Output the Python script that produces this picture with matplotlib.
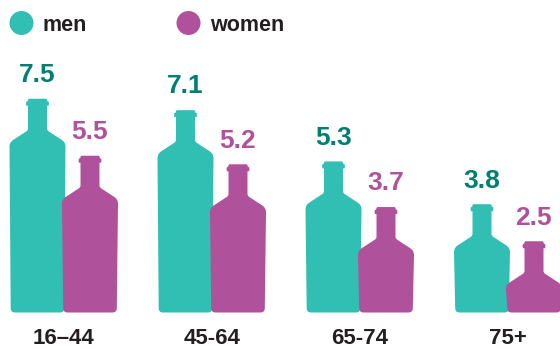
import matplotlib
matplotlib.use('Agg')
import matplotlib.pyplot as plt
from matplotlib.patches import PathPatch, Ellipse
from matplotlib.path import Path

# Data
age_groups = ['16–44', '45-64', '65-74', '75+']
men = [7.5, 7.1, 5.3, 3.8]
women = [5.5, 5.2, 3.7, 2.5]

TEAL = '#32BFB3'
TEAL_DARK = '#007F75'
PURPLE = '#AF519B'
INK = '#231F20'

plt.rcParams['font.family'] = ['Liberation Sans', 'DejaVu Sans']

W, H = 560, 349
PX_PER_UNIT = 28.5  # bottle height per unit of value
BASE_PX = 312.5     # pixel row of the baseline


def px_y(row):
    return (BASE_PX - row) / PX_PER_UNIT


def bottle(ax, xc, value, color):
    # neck and shoulder keep a fixed size, only the body stretches with the value
    u = 1 / PX_PER_UNIT
    top = value
    def at(dx, dy):
        return (xc + dx, top - dy * u)
    def low(dx, dy):
        return (xc + dx, dy * u)
    right = [
        (Path.LINETO, at(8.5, 0)), (Path.CURVE3, at(9.6, 0)), (Path.CURVE3, at(9.8, 2.5)),
        (Path.LINETO, at(11, 2.8)), (Path.CURVE3, at(12, 4.8)), (Path.CURVE3, at(11, 7)), (Path.LINETO, at(9.5, 7)),
        (Path.LINETO, at(9.5, 30)), (Path.CURVE3, at(9.7, 31.5)), (Path.CURVE3, at(11, 32.5)),
        (Path.LINETO, at(24, 41)), (Path.CURVE3, at(28, 43.5)), (Path.CURVE3, at(28, 48)),
        (Path.LINETO, low(26.8, 4)), (Path.CURVE3, low(26.6, 0)), (Path.CURVE3, low(22.5, 0)),
    ]
    left = [
        (Path.LINETO, low(-22.5, 0)), (Path.CURVE3, low(-26.6, 0)), (Path.CURVE3, low(-26.8, 4)),
        (Path.LINETO, at(-28, 48)), (Path.CURVE3, at(-28, 43.5)), (Path.CURVE3, at(-24, 41)),
        (Path.LINETO, at(-11, 32.5)), (Path.CURVE3, at(-9.7, 31.5)), (Path.CURVE3, at(-9.5, 30)),
        (Path.LINETO, at(-9.5, 7)), (Path.LINETO, at(-11, 7)), (Path.CURVE3, at(-12, 4.8)), (Path.CURVE3, at(-11, 2.8)),
        (Path.LINETO, at(-9.8, 2.5)), (Path.CURVE3, at(-9.6, 0)), (Path.CURVE3, at(-8.5, 0)),
    ]
    codes = [Path.MOVETO] + [c for c, _ in right + left] + [Path.CLOSEPOLY]
    verts = [at(-8.5, 0)] + [v for _, v in right + left] + [at(-8.5, 0)]
    ax.add_patch(PathPatch(Path(verts, codes), facecolor=color, edgecolor='none'))


fig = plt.figure(figsize=(W / 100, H / 100), dpi=100)
ax = fig.add_axes([0, 0, 1, 1])
ax.set_xlim(0, W)
ax.set_ylim(px_y(H), px_y(0))
ax.axis('off')

men_x = [37.5, 185.5, 333.5, 482]
women_x = [90, 238, 386, 534]

for x, v in zip(men_x, men):
    bottle(ax, x, v, TEAL)
    ax.annotate(f'{v}', (x, v), xytext=(0, 12), textcoords='offset points', ha='center', va='baseline',
                fontsize=19, fontweight='bold', color=TEAL_DARK)
for x, v in zip(women_x, women):
    bottle(ax, x, v, PURPLE)
    ax.annotate(f'{v}', (x - 0.5, v), xytext=(0, 12), textcoords='offset points', ha='center', va='baseline',
                fontsize=19, fontweight='bold', color=PURPLE)

for m, w, label in zip(men_x, women_x, age_groups):
    ax.text((m + w) / 2, px_y(344.5), label, ha='center', va='baseline',
            fontsize=16, fontweight='bold', color=INK)

# legend
for cx, color, name in [(21.5, TEAL, 'men'), (188.5, PURPLE, 'women')]:
    ax.add_patch(Ellipse((cx, px_y(23)), 24, 24 / PX_PER_UNIT, facecolor=color, edgecolor='none'))
    ax.text(cx + 21.5, px_y(31), name, ha='left', va='baseline',
            fontsize=15.5, fontweight='bold', color=INK)

fig.savefig('out.png', dpi=100)
